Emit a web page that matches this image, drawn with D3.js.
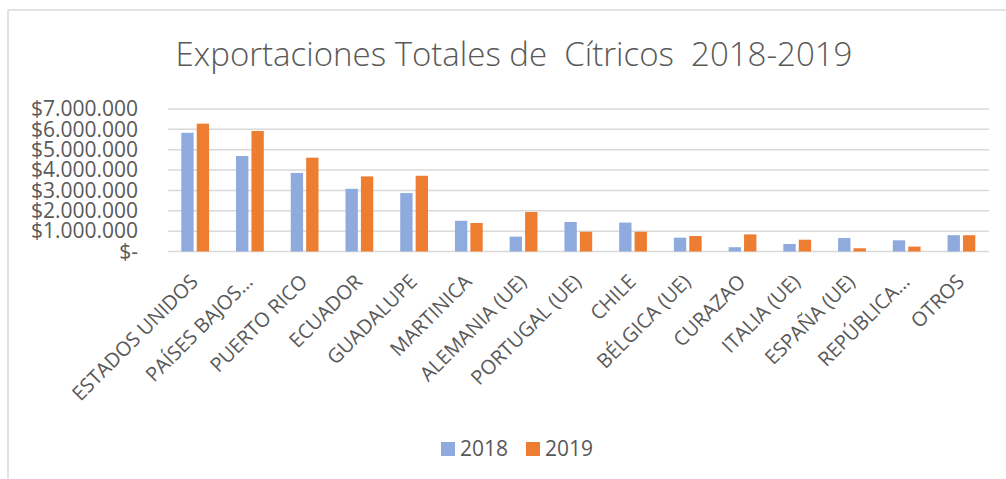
<!DOCTYPE html>
<html>
<head>
<meta charset="utf-8">
<script src="https://cdn.jsdelivr.net/npm/d3@7"></script>
<style>
  body { margin: 0; background: #fff; }
  text { font-family: "Open Sans", sans-serif; fill: #595959; }
</style>
</head>
<body>
<div id="chart"></div>
<script>
// data
var paises = ["ESTADOS UNIDOS", "PAÍSES BAJOS…", "PUERTO RICO", "ECUADOR", "GUADALUPE",
  "MARTINICA", "ALEMANIA (UE)", "PORTUGAL (UE)", "CHILE", "BÉLGICA (UE)", "CURAZAO",
  "ITALIA (UE)", "ESPAÑA (UE)", "REPÚBLICA…", "OTROS"];
var anios = ["2018", "2019"];
var valores2018 = [5830000, 4690000, 3860000, 3080000, 2870000, 1510000, 730000, 1450000,
  1420000, 680000, 210000, 370000, 660000, 550000, 800000];
var valores2019 = [6280000, 5920000, 4610000, 3690000, 3720000, 1400000, 1940000, 970000,
  970000, 760000, 840000, 580000, 160000, 240000, 800000];
var yTicks = [0, 1000000, 2000000, 3000000, 4000000, 5000000, 6000000, 7000000];
var colores = ["#8FAADC", "#ED7D31"];

var svgWidth = 1006;
var svgHeight = 479;

var svg = d3.select("#chart")
  .append("svg")
  .attr("width", svgWidth)
  .attr("height", svgHeight);

// chart frame
svg.append("rect")
  .attr("x", 8)
  .attr("y", 10)
  .attr("width", 1020)
  .attr("height", 500)
  .attr("fill", "#fff")
  .attr("stroke", "#d9d9d9")
  .attr("stroke-width", 1.5);

var plot = { left: 168, right: 989, top: 109, bottom: 251.5 };

var xScale = d3.scaleBand()
  .domain(paises)
  .range([plot.left, plot.right]);

var xInner = d3.scaleBand()
  .domain(anios)
  .range([xScale.bandwidth() * 0.243, xScale.bandwidth() * 0.75])
  .paddingInner(0.2);

var yScale = d3.scaleLinear()
  .domain([0, 7000000])
  .range([plot.bottom, plot.top]);

var locale = d3.formatLocale({ decimal: ",", thousands: ".", grouping: [3], currency: ["$", ""] });
var fmt = locale.format("$,.0f");

// gridlines
svg.append("g")
  .selectAll("line")
  .data(yTicks)
  .join("line")
  .attr("x1", plot.left)
  .attr("x2", plot.right)
  .attr("y1", d => yScale(d))
  .attr("y2", d => yScale(d))
  .attr("stroke", "#d9d9d9")
  .attr("stroke-width", 1.5);

// y labels
svg.append("g")
  .selectAll("text")
  .data(yTicks)
  .join("text")
  .attr("x", 138)
  .attr("y", d => yScale(d))
  .attr("dy", "0.35em")
  .attr("text-anchor", "end")
  .style("font-size", "21px")
  .text(d => d === 0 ? "$-" : fmt(d));

// bars
var rows = paises.map((p, i) => ({ pais: p, vals: [valores2018[i], valores2019[i]] }));

var groups = svg.append("g")
  .selectAll("g")
  .data(rows)
  .join("g")
  .attr("transform", d => `translate(${xScale(d.pais)},0)`);

groups.selectAll("rect")
  .data(d => d.vals.map((v, j) => ({ anio: anios[j], v: v, c: colores[j] })))
  .join("rect")
  .attr("x", d => xInner(d.anio))
  .attr("width", xInner.bandwidth())
  .attr("y", d => yScale(d.v))
  .attr("height", d => yScale(0) - yScale(d.v))
  .attr("fill", d => d.c);

// x labels, rotated
svg.append("g")
  .selectAll("text")
  .data(paises)
  .join("text")
  .attr("text-anchor", "end")
  .attr("transform", d => `translate(${xScale(d) + xScale.bandwidth() / 2 + 4}, 283) rotate(-45)`)
  .style("font-size", "20px")
  .text(d => d);

// title
svg.append("text")
  .attr("x", (177 + 851) / 2)
  .attr("y", 66)
  .attr("text-anchor", "middle")
  .style("font-size", "33px")
  .style("font-weight", 300)
  .style("white-space", "pre")
  .text("Exportaciones Totales de  Cítricos  2018-2019");

// legend
var legend = svg.append("g")
  .selectAll("g")
  .data(anios)
  .join("g")
  .attr("transform", (d, i) => `translate(${441 + i * 85}, 442)`);

legend.append("rect")
  .attr("width", 14)
  .attr("height", 14)
  .attr("fill", (d, i) => colores[i]);

legend.append("text")
  .attr("x", 19)
  .attr("y", 7)
  .attr("dy", "0.35em")
  .style("font-size", "21px")
  .text(d => d);
</script>
</body>
</html>
